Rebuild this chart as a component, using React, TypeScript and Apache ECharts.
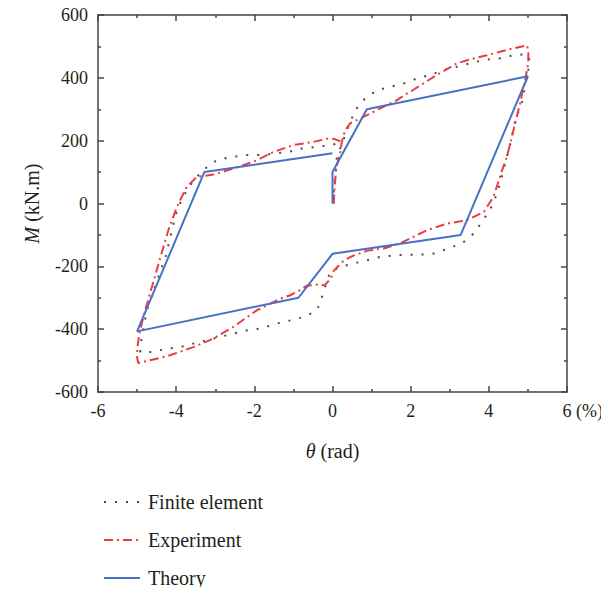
import React, { useEffect, useRef } from "react";
import * as echarts from "echarts";

const xTicks = [-6, -4, -2, 0, 2, 4, 6];
const yTicks = [-600, -400, -200, 0, 200, 400, 600];
const seriesNames = ["Finite element", "Experiment", "Theory"];

const finiteElement: [number, number][] = [
  [0.03, 0], [0.03, 48], [0.07, 90], [0.11, 148], [0.28, 202], [0.37, 233], [0.58, 297],
  [0.79, 329], [1.14, 361], [1.48, 371], [1.82, 382], [2.16, 398], [2.5, 409], [2.84, 425],
  [3.18, 435], [3.52, 446], [3.87, 457], [4.29, 462], [4.63, 472], [4.98, 475], [5.06, 451],
  [4.98, 409], [4.85, 324], [4.68, 265], [4.55, 191], [4.46, 148], [4.29, 64], [4.16, 16],
  [4.04, -18], [3.82, -59], [3.61, -96], [3.31, -127], [2.97, -143], [2.59, -159], [2.25, -163],
  [1.9, -163], [1.56, -165], [1.22, -170], [0.88, -181], [0.54, -191], [0.2, -202], [-0.06, -218],
  [-0.19, -266], [-0.3, -310], [-0.4, -340], [-0.7, -360], [-1.08, -372], [-1.42, -382],
  [-1.85, -398], [-2.19, -404], [-2.54, -414], [-2.88, -425], [-3.22, -435], [-3.56, -446],
  [-3.9, -457], [-4.25, -462], [-4.63, -473], [-4.92, -473], [-4.88, -425], [-4.75, -340],
  [-4.5, -250], [-4.26, -165], [-4.13, -96], [-4.0, -32], [-3.9, 0], [-3.73, 42], [-3.51, 80],
  [-3.26, 111], [-2.96, 138], [-2.58, 148], [-2.19, 154], [-1.85, 154], [-1.47, 159],
  [-1.13, 164], [-0.78, 175], [-0.4, 180], [-0.06, 186], [0.1, 190],
];

const experiment: [number, number][] = [
  [0.03, 0], [0.05, 42], [0.07, 74], [0.09, 106], [0.15, 143], [0.2, 164], [0.24, 196],
  [0.32, 232], [0.45, 255], [0.88, 281], [1.22, 303], [1.65, 329], [1.9, 350], [2.07, 362],
  [2.59, 403], [3.18, 446], [3.5, 458], [3.95, 472], [4.29, 483], [4.63, 494], [4.98, 503],
  [5.01, 480], [5.01, 448], [4.93, 393], [4.8, 319], [4.63, 233], [4.46, 148], [4.34, 106],
  [4.12, 21], [3.87, -27], [3.44, -53], [2.93, -64], [2.42, -85], [2.07, -106], [1.73, -127],
  [1.31, -143], [0.9, -150], [0.55, -165], [0.3, -180], [0.1, -205], [0.03, -215], [-0.05, -240],
  [-0.2, -260], [-0.4, -258], [-0.66, -262], [-0.83, -276], [-1.08, -292], [-1.34, -303],
  [-1.94, -340], [-2.54, -393], [-3.05, -430], [-3.56, -457], [-4.16, -483], [-4.5, -494],
  [-4.97, -508], [-5.0, -490], [-4.99, -457], [-4.94, -414], [-4.84, -361], [-4.67, -287],
  [-4.4, -170], [-4.2, -85], [-3.98, -11], [-3.9, 10], [-3.73, 53], [-3.47, 85], [-3.05, 92],
  [-2.54, 111], [-2.02, 133], [-1.51, 164], [-1.0, 186], [-0.49, 196], [-0.1, 207], [0.05, 205],
  [0.2, 198],
];

const theory: [number, number][] = [
  [0, 0], [0, 100], [0.88, 300], [5.0, 405], [3.28, -100], [0, -160], [-0.87, -300],
  [-5.0, -407], [-3.28, 100], [0, 160],
];

const FONT = "'Liberation Serif', 'DejaVu Serif', serif";
const AXIS_COLOR = "#444";
const TEXT_COLOR = "#231f20";

export default function App() {
  const ref = useRef<HTMLDivElement>(null);
  useEffect(() => {
    if (!ref.current) return;
    const chart = echarts.init(ref.current, null, { renderer: "svg" });
    const axisLine = { show: true, onZero: false, lineStyle: { color: AXIS_COLOR, width: 1.5 } };
    const axisTick = { show: true, inside: true, length: 6, lineStyle: { color: AXIS_COLOR, width: 1.5 } };
    const minorTick = { show: true, splitNumber: 2, length: 3, lineStyle: { color: AXIS_COLOR, width: 1.5 } };
    const labelStyle = { fontFamily: FONT, fontSize: 18, color: TEXT_COLOR };
    const nameStyle = { fontFamily: FONT, fontSize: 20, color: TEXT_COLOR };
    const xMin = xTicks[0], xMax = xTicks[xTicks.length - 1];
    const yMin = yTicks[0], yMax = yTicks[yTicks.length - 1];
    const xInt = xTicks[1] - xTicks[0];
    const yInt = yTicks[1] - yTicks[0];
    chart.setOption({
      animation: false,
      grid: { left: 98, right: 42, top: 15, bottom: 203, containLabel: false },
      xAxis: [
        {
          type: "value", min: xMin, max: xMax, interval: xInt, position: "bottom",
          axisLine, axisTick, minorTick, splitLine: { show: false },
          axisLabel: { ...labelStyle, margin: 10, formatter: (v: number) => String(v) },
          name: "{i|θ} (rad)", nameLocation: "middle", nameGap: 49,
          nameTextStyle: { ...nameStyle, rich: { i: { ...nameStyle, fontStyle: "italic" } } },
        },
        {
          type: "value", min: xMin, max: xMax, interval: xInt, position: "top",
          axisLine, axisTick, minorTick, splitLine: { show: false }, axisLabel: { show: false },
        },
      ],
      yAxis: [
        {
          type: "value", min: yMin, max: yMax, interval: yInt, position: "left",
          axisLine, axisTick, minorTick, splitLine: { show: false },
          axisLabel: { ...labelStyle, margin: 10 },
          name: "{i|M} (kN.m)", nameLocation: "middle", nameGap: 56,
          nameTextStyle: { ...nameStyle, rich: { i: { ...nameStyle, fontStyle: "italic" } } },
        },
        {
          type: "value", min: yMin, max: yMax, interval: yInt, position: "right",
          axisLine, axisTick, minorTick, splitLine: { show: false }, axisLabel: { show: false },
        },
      ],
      legend: {
        orient: "vertical", left: 98, top: 487, itemWidth: 36, itemHeight: 12, itemGap: 18,
        data: seriesNames,
        itemStyle: { opacity: 0 },
        textStyle: { ...nameStyle, padding: [0, 0, 0, 3] },
      },
      graphic: [
        {
          type: "text", left: 576, top: 402,
          style: { text: "(%)", font: `18px ${FONT}`, fill: TEXT_COLOR },
        },
      ],
      series: [
        {
          name: seriesNames[0], type: "line", data: finiteElement, symbol: "none",
          lineStyle: { color: "#4a4a4a", width: 2, type: [2, 9], cap: "butt" },
          itemStyle: { color: "#4a4a4a" },
        },
        {
          name: seriesNames[1], type: "line", data: experiment, symbol: "none",
          lineStyle: { color: "#ee3a3f", width: 2, type: [9, 4, 2, 4], cap: "butt" },
          itemStyle: { color: "#ee3a3f" },
        },
        {
          name: seriesNames[2], type: "line", data: theory, symbol: "none",
          lineStyle: { color: "#4472c4", width: 2 },
          itemStyle: { color: "#4472c4" },
        },
      ],
    });
    return () => chart.dispose();
  }, []);
  return <div ref={ref} style={{ width: 609, height: 595, margin: -8 }} />;
}
